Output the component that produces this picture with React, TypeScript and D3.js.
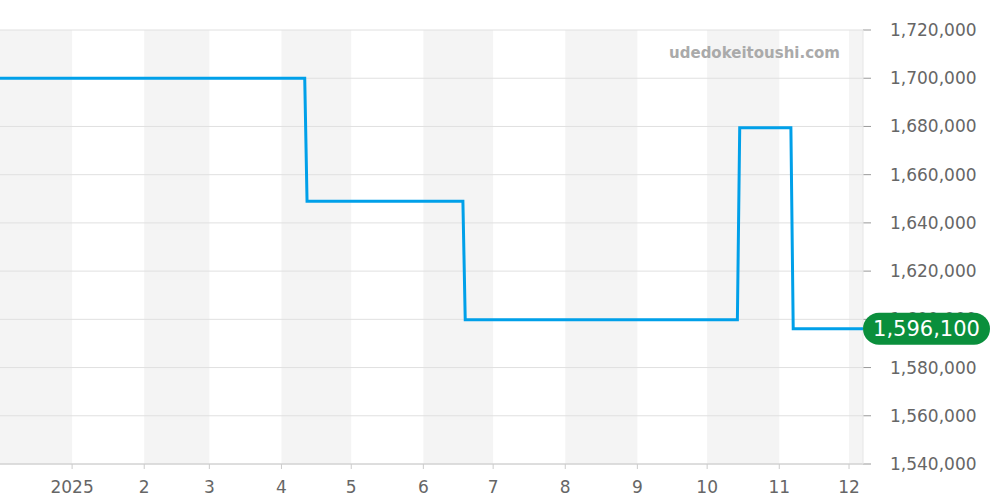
import React from "react";
import * as d3 from "d3";

const dates = [
  "2024-12-01", "2025-04-11", "2025-04-12", "2025-06-18", "2025-06-19",
  "2025-10-14", "2025-10-15", "2025-11-06", "2025-11-07", "2025-12-07",
];
const prices = [
  1700000, 1700000, 1649000, 1649000, 1599800,
  1599800, 1679500, 1679500, 1596100, 1596100,
];
const yTicks = [1540000, 1560000, 1580000, 1600000, 1620000, 1640000, 1660000, 1680000, 1700000, 1720000];
const monthTicks = [
  "2025-01-01", "2025-02-01", "2025-03-01", "2025-04-01", "2025-05-01", "2025-06-01",
  "2025-07-01", "2025-08-01", "2025-09-01", "2025-10-01", "2025-11-01", "2025-12-01",
];
const bandStarts = ["2024-12-01", "2025-02-01", "2025-04-01", "2025-06-01", "2025-08-01", "2025-10-01", "2025-12-01"];
const watermark = "udedokeitoushi.com";
const lastLabel = "1,596,100";

const W = 1000, H = 500;
const left = 0, right = 863, top = 30, bottom = 464;
const parse = d3.utcParse("%Y-%m-%d");
const font = "DejaVu Sans, sans-serif";

export default function App() {
  const data = dates.map((d, i) => ({ date: parse(d)!, value: prices[i] }));
  const x = d3.scaleUtc().domain([parse("2024-12-01")!, parse("2025-12-07")!]).range([left, right]);
  const y = d3.scaleLinear().domain([1540000, 1720000]).range([bottom, top]);
  const line = d3.line<{ date: Date; value: number }>().x(d => x(d.date)).y(d => y(d.value));
  const fmt = d3.format(",");
  const last = data[data.length - 1];
  const ly = y(last.value);

  return (
    <div style={{ position: "absolute", left: 0, top: 0 }}>
      <svg width={W} height={H} style={{ display: "block", fontFamily: font }}>
        <rect width={W} height={H} fill="#fff" />
        {bandStarts.map(s => {
          const a = parse(s)!;
          const b = d3.utcMonth.offset(a, 1);
          const x0 = Math.max(left, x(a));
          const x1 = Math.min(right, x(b));
          return <rect key={s} x={x0} y={top} width={x1 - x0} height={bottom - top} fill="#f4f4f4" />;
        })}
        {yTicks.map(t => (
          <g key={t}>
            <line x1={left} x2={right} y1={y(t)} y2={y(t)} stroke="#e0e0e0" strokeWidth={1} />
            <line x1={right} x2={right + 8} y1={y(t)} y2={y(t)} stroke="#999" strokeWidth={1} />
            <text x={890} y={y(t)} dy="0.35em" fontSize={17} fill="#666">{fmt(t)}</text>
          </g>
        ))}
        <line x1={left} x2={right} y1={bottom} y2={bottom} stroke="#ccc" strokeWidth={1} />
        <line x1={right} x2={right} y1={top} y2={bottom} stroke="#e6e6e6" strokeWidth={1} />
        {monthTicks.map(m => {
          const d = parse(m)!;
          const xx = x(d);
          const label = d.getUTCMonth() === 0 ? String(d.getUTCFullYear()) : String(d.getUTCMonth() + 1);
          return (
            <g key={m}>
              <line x1={xx} x2={xx} y1={bottom} y2={bottom + 5} stroke="#ccc" />
              <text x={xx} y={493} textAnchor="middle" fontSize={17} fill="#666">{label}</text>
            </g>
          );
        })}
        <text x={840} y={58} textAnchor="end" fontSize={15} fontWeight="bold" fill="#aaa">{watermark}</text>
        <path d={line(data)!} fill="none" stroke="#00a0e9" strokeWidth={3} />
        <rect x={863} y={ly - 16} width={127} height={32} rx={16} fill="#0a8f3c" />
        <text x={926.5} y={ly} dy="0.36em" textAnchor="middle" fontSize={21} fill="#fff">{lastLabel}</text>
      </svg>
    </div>
  );
}
